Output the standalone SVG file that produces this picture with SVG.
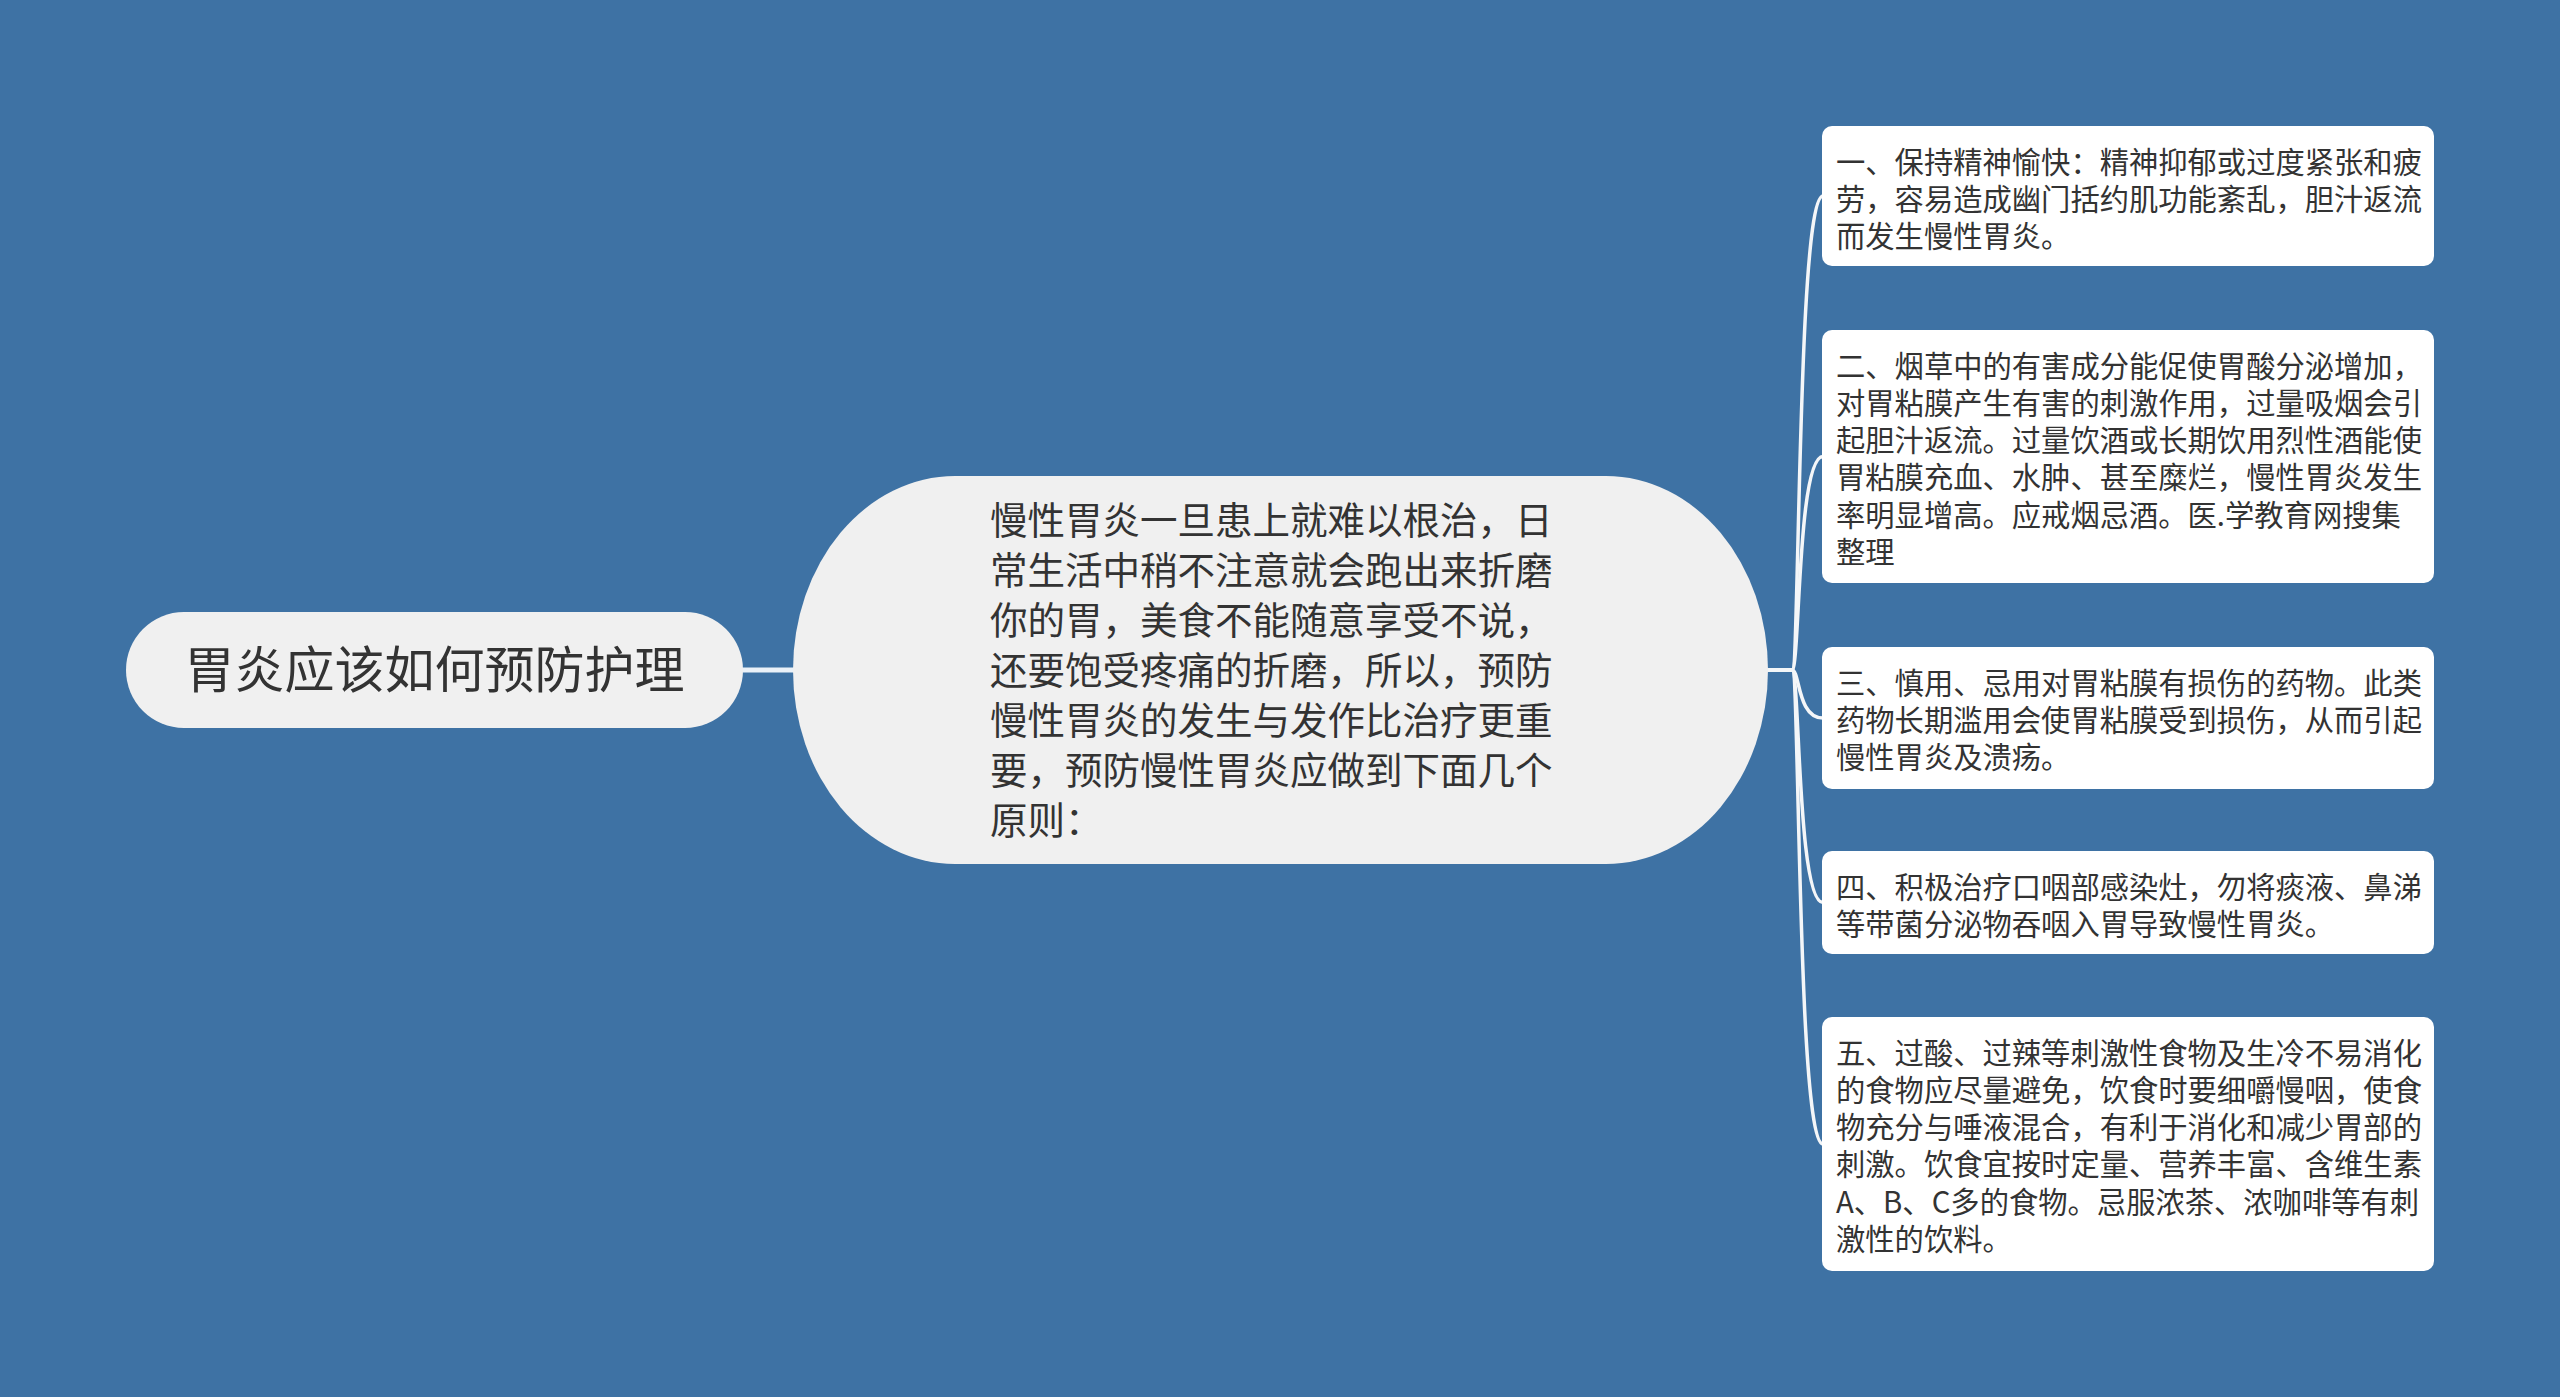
<svg xmlns="http://www.w3.org/2000/svg" width="2560" height="1397" viewBox="0 0 2560 1397">
<style>
.bg{fill:#3e72a4}
.pill{fill:#f0f0f0}
.box{fill:#ffffff}
.t{font-family:"Noto Sans CJK SC","Noto Sans",sans-serif;fill:#333333}
.root{font-size:50px}
.mid{font-size:37.5px}
.leaf{font-size:29.3px}
.c-main{stroke:#eaf1f8;stroke-width:5;fill:none}
.c{stroke:#f4f6f8;stroke-width:3.5;fill:none}
</style>
<rect class="bg" x="0" y="0" width="2560" height="1397"/>
<g id="connectors">
<line class="c-main" x1="740" y1="670" x2="796" y2="670"/>
<path class="c" d="M1766 670 H1792 C1800 670 1797 196 1823 196"/>
<path class="c" d="M1766 670 H1792 C1800 670 1797 456.5 1823 456.5"/>
<path class="c" d="M1766 670 H1792 C1800 670 1797 718 1823 718"/>
<path class="c" d="M1766 670 H1792 C1800 670 1797 902.5 1823 902.5"/>
<path class="c" d="M1766 670 H1792 C1800 670 1797 1144 1823 1144"/>
</g>
<g id="root">
<rect class="pill" x="126" y="612" width="617" height="116" rx="58" ry="58"/>
<text class="t root" x="434.5" y="688" text-anchor="middle">胃炎应该如何预防护理</text>
</g>
<g id="center">
<rect class="pill" x="793" y="476" width="975" height="388" rx="162" ry="194"/>
<text class="t mid" x="990" y="534">慢性胃炎一旦患上就难以根治，日</text>
<text class="t mid" x="990" y="584">常生活中稍不注意就会跑出来折磨</text>
<text class="t mid" x="990" y="634">你的胃，美食不能随意享受不说，</text>
<text class="t mid" x="990" y="684">还要饱受疼痛的折磨，所以，预防</text>
<text class="t mid" x="990" y="734">慢性胃炎的发生与发作比治疗更重</text>
<text class="t mid" x="990" y="784">要，预防慢性胃炎应做到下面几个</text>
<text class="t mid" x="990" y="834">原则：</text>
</g>
<g id="leaf1">
<rect class="box" x="1822" y="126" width="612" height="140" rx="10"/>
<text class="t leaf" x="1836" y="172.5">一、保持精神愉快：精神抑郁或过度紧张和疲</text>
<text class="t leaf" x="1836" y="209.8">劳，容易造成幽门括约肌功能紊乱，胆汁返流</text>
<text class="t leaf" x="1836" y="247.1">而发生慢性胃炎。</text>
</g>
<g id="leaf2">
<rect class="box" x="1822" y="330" width="612" height="253" rx="10"/>
<text class="t leaf" x="1836" y="376.5">二、烟草中的有害成分能促使胃酸分泌增加，</text>
<text class="t leaf" x="1836" y="413.8">对胃粘膜产生有害的刺激作用，过量吸烟会引</text>
<text class="t leaf" x="1836" y="451.1">起胆汁返流。过量饮酒或长期饮用烈性酒能使</text>
<text class="t leaf" x="1836" y="488.4">胃粘膜充血、水肿、甚至糜烂，慢性胃炎发生</text>
<text class="t leaf" x="1836" y="525.7">率明显增高。应戒烟忌酒。医.学教育网搜集</text>
<text class="t leaf" x="1836" y="563">整理</text>
</g>
<g id="leaf3">
<rect class="box" x="1822" y="647" width="612" height="142" rx="10"/>
<text class="t leaf" x="1836" y="693.5">三、慎用、忌用对胃粘膜有损伤的药物。此类</text>
<text class="t leaf" x="1836" y="730.8">药物长期滥用会使胃粘膜受到损伤，从而引起</text>
<text class="t leaf" x="1836" y="768.1">慢性胃炎及溃疡。</text>
</g>
<g id="leaf4">
<rect class="box" x="1822" y="851" width="612" height="103" rx="10"/>
<text class="t leaf" x="1836" y="897.5">四、积极治疗口咽部感染灶，勿将痰液、鼻涕</text>
<text class="t leaf" x="1836" y="934.8">等带菌分泌物吞咽入胃导致慢性胃炎。</text>
</g>
<g id="leaf5">
<rect class="box" x="1822" y="1017" width="612" height="254" rx="10"/>
<text class="t leaf" x="1836" y="1063.5">五、过酸、过辣等刺激性食物及生冷不易消化</text>
<text class="t leaf" x="1836" y="1100.8">的食物应尽量避免，饮食时要细嚼慢咽，使食</text>
<text class="t leaf" x="1836" y="1138.1">物充分与唾液混合，有利于消化和减少胃部的</text>
<text class="t leaf" x="1836" y="1175.4">刺激。饮食宜按时定量、营养丰富、含维生素</text>
<text class="t leaf" x="1836" y="1212.7">A、B、C多的食物。忌服浓茶、浓咖啡等有刺</text>
<text class="t leaf" x="1836" y="1250">激性的饮料。</text>
</g>
</svg>
